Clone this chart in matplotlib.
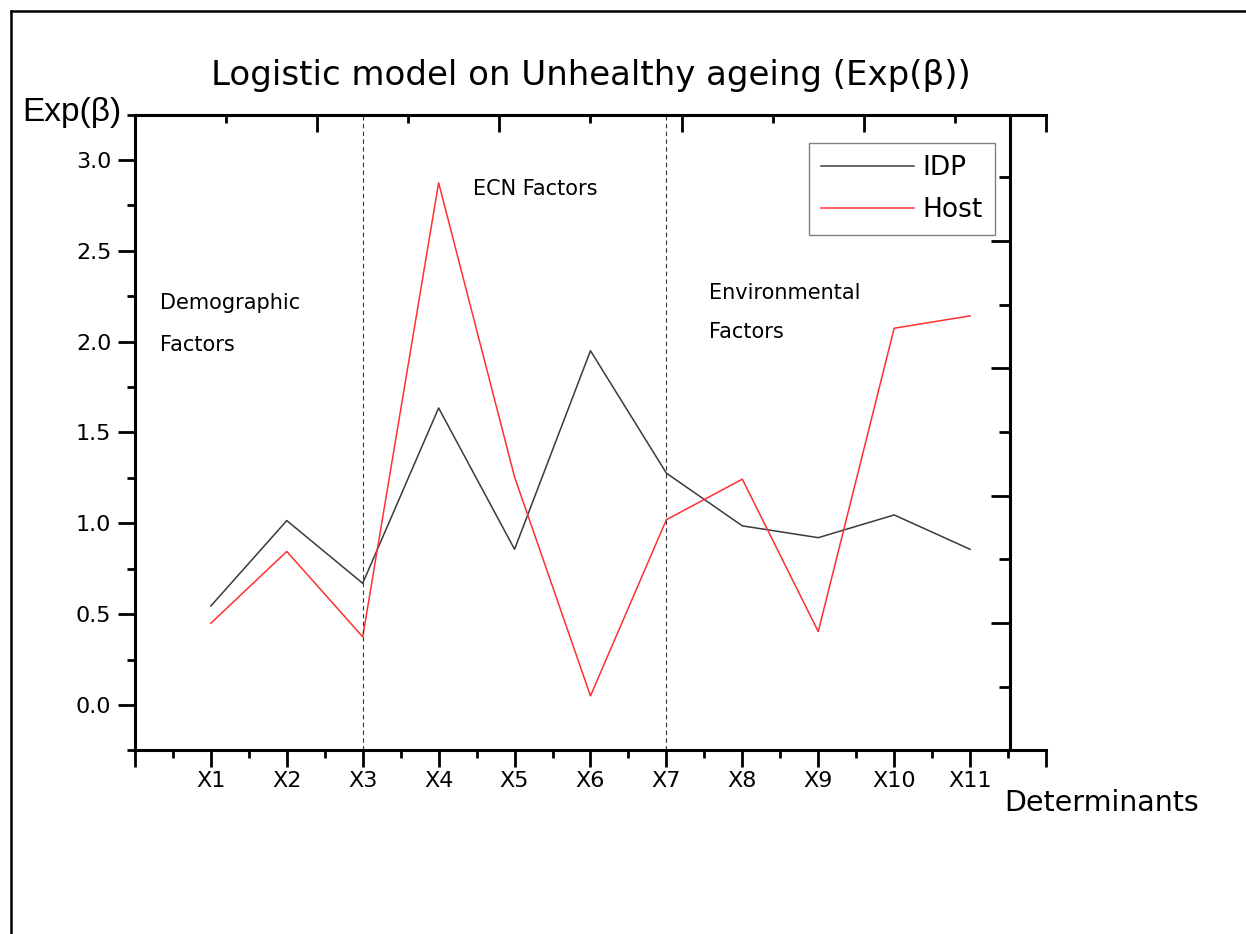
import matplotlib
matplotlib.use("Agg")
import matplotlib.pyplot as plt
from matplotlib.lines import Line2D
import numpy as np

categories = ["X1", "X2", "X3", "X4", "X5", "X6", "X7", "X8", "X9", "X10", "X11"]
idp = [0.545, 1.015, 0.67, 1.635, 0.857, 1.95, 1.276, 0.986, 0.921, 1.046, 0.857]
host = [0.45, 0.845, 0.375, 2.875, 1.255, 0.05, 1.02, 1.243, 0.404, 2.074, 2.142]
y_major = [0.0, 0.5, 1.0, 1.5, 2.0, 2.5, 3.0]
y_labels = ["0.0", "0.5", "1.0", "1.5", "2.0", "2.5", "3.0"]
group_bounds = [3, 7]

plt.rcParams['font.family'] = ['DejaVu Sans']

fig = plt.figure(figsize=(12.46, 9.34), dpi=100)
ax = fig.add_axes([0.1083, 0.1966, 0.7312, 0.6807])

x = np.arange(1, len(categories) + 1)
ax.plot(x, idp, color="#3a3a3a", lw=1.1, label="IDP")
ax.plot(x, host, color="#ff3030", lw=1.1, label="Host")
for b in group_bounds:
    ax.axvline(b, color="#333333", lw=0.8, ls=(0, (4, 3)))

ax.set_xlim(0, 12)
ax.set_ylim(-0.25, 3.25)
ax.set_xticks(np.arange(0, 13, 1))
ax.set_xticklabels([""] + categories + [""], fontsize=16)
ax.set_xticks(np.arange(0, 12.01, 0.5), minor=True)
ax.set_yticks(y_major)
ax.set_yticklabels(y_labels, fontsize=16)
ax.set_yticks(np.arange(-0.25, 3.26, 0.25), minor=True)
ax.tick_params(axis='both', which='major', direction='out', length=12, width=2)
ax.tick_params(axis='both', which='minor', direction='out', length=6, width=2)
ax.tick_params(axis='x', which='major', pad=3)
ax.tick_params(axis='y', which='major', pad=5)
for s in ['left', 'bottom']:
    ax.spines[s].set_linewidth(2.2)
for s in ['top', 'right']:
    ax.spines[s].set_visible(False)

# top axis
axt = ax.twiny()
axt.set_xlim(0, 12)
axt.set_xticks(np.arange(0, 12.01, 2.4))
axt.set_xticks(np.arange(1.2, 12, 2.4), minor=True)
axt.tick_params(axis='x', which='major', direction='in', length=12, width=2, labeltop=False)
axt.tick_params(axis='x', which='minor', direction='in', length=6, width=2)
for s in ['left', 'bottom', 'right']:
    axt.spines[s].set_visible(False)
axt.spines['top'].set_linewidth(2.2)

# right axis
axr = ax.twinx()
axr.set_ylim(-0.25, 3.25)
axr.set_yticks([0.451, 1.150, 1.855, 2.554])
axr.set_yticks([0.099, 0.804, 1.503, 2.202, 2.906], minor=True)
axr.tick_params(axis='y', which='major', direction='in', length=14, width=2, labelright=False)
axr.tick_params(axis='y', which='minor', direction='in', length=8, width=2)
for s in ['left', 'bottom', 'top']:
    axr.spines[s].set_visible(False)
axr.spines['right'].set_position(('axes', 0.9605))
axr.spines['right'].set_linewidth(2.2)

leg = ax.legend(loc='upper right', bbox_to_anchor=(0.944, 0.955), fontsize=19,
                handlelength=3.5, handletextpad=0.35, borderpad=0.45, borderaxespad=0,
                labelspacing=0.62, fancybox=False, framealpha=1, edgecolor="#808080")
leg.get_frame().set_linewidth(1.0)

fs = 15
ax.text(0.028, 0.704, "Demographic", transform=ax.transAxes, fontsize=fs, va='center')
ax.text(0.028, 0.638, "Factors", transform=ax.transAxes, fontsize=fs, va='center')
ax.text(0.371, 0.883, "ECN Factors", transform=ax.transAxes, fontsize=fs, va='center')
ax.text(0.630, 0.720, "Environmental", transform=ax.transAxes, fontsize=fs, va='center')
ax.text(0.630, 0.658, "Factors", transform=ax.transAxes, fontsize=fs, va='center')

fig.text(0.474, 0.919, "Logistic model on Unhealthy ageing (Exp(β))", fontsize=24.5,
         ha='center', va='center')
fig.text(0.018, 0.880, "Exp(β)", fontsize=24, ha='left', va='center',
         family=['Liberation Sans', 'DejaVu Sans'])
fig.text(0.806, 0.140, "Determinants", fontsize=20.5, ha='left', va='center')

fig.add_artist(Line2D([0.0085, 0.0085], [0, 0.9885], color='black', lw=1.8,
                      transform=fig.transFigure))
fig.add_artist(Line2D([0.0085, 1.0], [0.9885, 0.9885], color='black', lw=1.8,
                      transform=fig.transFigure))

fig.savefig("out.png", dpi=100, facecolor='white')
